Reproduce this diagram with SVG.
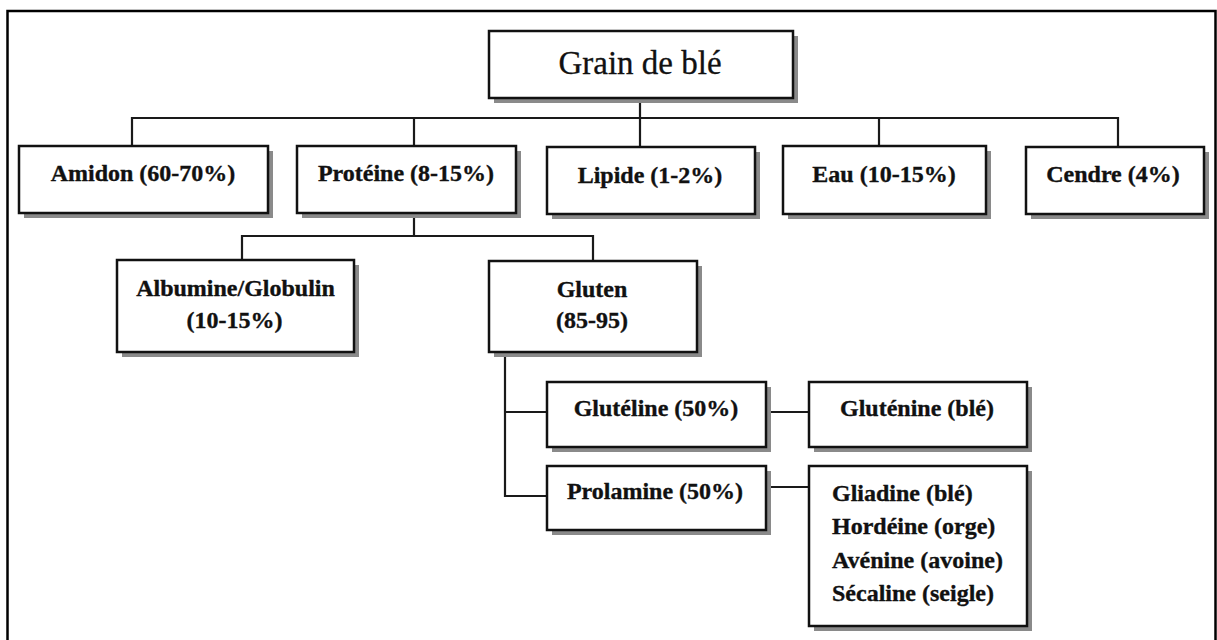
<svg xmlns="http://www.w3.org/2000/svg" width="1217" height="640" viewBox="0 0 1217 640">
<style>
  .shadow { fill: #8a8a8a; }
  .box { fill: #ffffff; stroke: #111111; stroke-width: 2.5; }
  .lbl { font-family: "Liberation Serif", "Times New Roman", serif; font-weight: bold; font-size: 24px; fill: #111111; stroke: #111111; stroke-width: 0.35; text-anchor: middle; }
  .lst { font-family: "Liberation Serif", "Times New Roman", serif; font-weight: bold; font-size: 24px; fill: #111111; stroke: #111111; stroke-width: 0.35; }
  .title { font-family: "Liberation Serif", "Times New Roman", serif; font-size: 33px; fill: #111111; stroke: #111111; stroke-width: 0.3; text-anchor: middle; }
  .conn { fill: none; stroke: #1a1a1a; stroke-width: 2.2; }
</style>
<rect x="0" y="0" width="1217" height="640" fill="#ffffff"/>
<rect x="7.5" y="11" width="1208" height="640" fill="none" stroke="#000000" stroke-width="2.5"/>

<g id="connectors">
  <path class="conn" d="M640 98 V147"/>
  <path class="conn" d="M132 146 V118 H1118 V147"/>
  <path class="conn" d="M414 118 V146"/>
  <path class="conn" d="M879 118 V146"/>
  <path class="conn" d="M414 213 V236"/>
  <path class="conn" d="M242 260 V236 H593 V261"/>
  <path class="conn" d="M505 352 V496 H547"/>
  <path class="conn" d="M505 412 H547"/>
  <path class="conn" d="M766 412 H809"/>
  <path class="conn" d="M766 487 H809"/>
</g>

<g id="node-grain">
  <rect class="shadow" x="494" y="36" width="304" height="67"/>
  <rect class="box" x="489" y="31" width="304" height="67"/>
  <text class="title" x="640" y="74">Grain de blé</text>
</g>

<g id="node-amidon">
  <rect class="shadow" x="24" y="151" width="249" height="67"/>
  <rect class="box" x="19" y="146" width="249" height="67"/>
  <text class="lbl" x="143" y="181">Amidon (60-70%)</text>
</g>

<g id="node-proteine">
  <rect class="shadow" x="302" y="151" width="219" height="67"/>
  <rect class="box" x="297" y="146" width="219" height="67"/>
  <text class="lbl" x="406" y="181">Protéine (8-15%)</text>
</g>

<g id="node-lipide">
  <rect class="shadow" x="552" y="152" width="208" height="67"/>
  <rect class="box" x="547" y="147" width="208" height="67"/>
  <text class="lbl" x="650" y="183">Lipide (1-2%)</text>
</g>

<g id="node-eau">
  <rect class="shadow" x="788" y="151" width="203" height="68"/>
  <rect class="box" x="783" y="146" width="203" height="68"/>
  <text class="lbl" x="884" y="182">Eau  (10-15%)</text>
</g>

<g id="node-cendre">
  <rect class="shadow" x="1031" y="152" width="178" height="67"/>
  <rect class="box" x="1026" y="147" width="178" height="67"/>
  <text class="lbl" x="1113" y="182">Cendre (4%)</text>
</g>

<g id="node-albumine">
  <rect class="shadow" x="122" y="265" width="237" height="92"/>
  <rect class="box" x="117" y="260" width="237" height="92"/>
  <text class="lbl" x="235.5" y="296">Albumine/Globulin</text>
  <text class="lbl" x="234.5" y="328">(10-15%)</text>
</g>

<g id="node-gluten">
  <rect class="shadow" x="494" y="266" width="208" height="91"/>
  <rect class="box" x="489" y="261" width="208" height="91"/>
  <text class="lbl" x="592" y="297">Gluten</text>
  <text class="lbl" x="592" y="328">(85-95)</text>
</g>

<g id="node-gluteline">
  <rect class="shadow" x="552" y="387" width="219" height="65"/>
  <rect class="box" x="547" y="382" width="219" height="65"/>
  <text class="lbl" x="656" y="416">Glutéline (50%)</text>
</g>

<g id="node-prolamine">
  <rect class="shadow" x="552" y="471" width="219" height="64"/>
  <rect class="box" x="547" y="466" width="219" height="64"/>
  <text class="lbl" x="655" y="499">Prolamine (50%)</text>
</g>

<g id="node-glutenine">
  <rect class="shadow" x="814" y="387" width="218" height="65"/>
  <rect class="box" x="809" y="382" width="218" height="65"/>
  <text class="lbl" x="917" y="416">Gluténine (blé)</text>
</g>

<g id="node-prolamines-list">
  <rect class="shadow" x="814" y="471" width="218" height="160"/>
  <rect class="box" x="809" y="466" width="218" height="160"/>
  <text class="lst" x="832" y="501">Gliadine (blé)</text>
  <text class="lst" x="832" y="534">Hordéine (orge)</text>
  <text class="lst" x="832" y="567.5">Avénine (avoine)</text>
  <text class="lst" x="832" y="600.5">Sécaline (seigle)</text>
</g>
</svg>
